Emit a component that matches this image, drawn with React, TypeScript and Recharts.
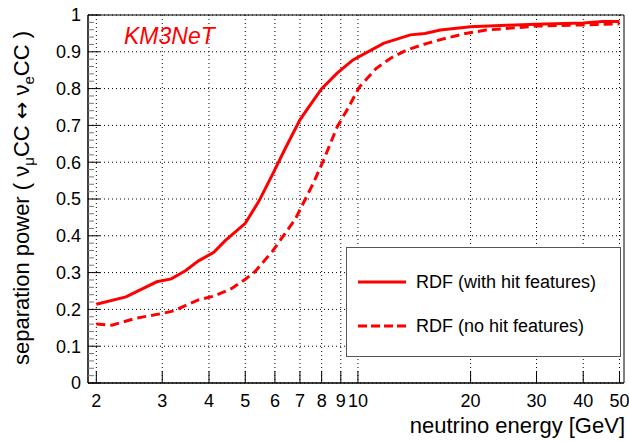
import React from "react";
import {
  LineChart,
  Line,
  XAxis,
  YAxis,
  CartesianGrid,
  ReferenceArea,
} from "recharts";

document.body.style.margin = "0";

const xTicks = [2, 3, 4, 5, 6, 7, 8, 9, 10, 20, 30, 40, 50];
const yTicks = [0, 0.1, 0.2, 0.3, 0.4, 0.5, 0.6, 0.7, 0.8, 0.9, 1];

const withHitEnergy = [
  2, 2.4, 2.9, 3.17, 3.46, 3.75, 4.12, 4.42, 5, 5.43, 5.9, 6.4, 7.0, 7.3, 8.0,
  8.8, 9.7, 11.7, 13.8, 15.1, 16.6, 20, 25, 30, 40, 45, 50,
];
const withHitPower = [
  0.214, 0.234, 0.275, 0.283, 0.305, 0.332, 0.355, 0.387, 0.434, 0.493, 0.565,
  0.638, 0.715, 0.742, 0.8, 0.842, 0.878, 0.923, 0.946, 0.95, 0.959, 0.968,
  0.972, 0.975, 0.978, 0.982, 0.982,
];

const noHitEnergy = [
  2, 2.2, 2.55, 3.0, 3.22, 3.75, 4.12, 4.6, 5.0, 5.3, 5.9, 6.8, 7.6, 8.1, 8.8,
  9.35, 10.1, 11.2, 12.2, 13.5, 15.3, 17.2, 19.4, 22, 30, 40, 50,
];
const noHitPower = [
  0.16, 0.157, 0.176, 0.189, 0.196, 0.226, 0.236, 0.257, 0.282, 0.302, 0.357,
  0.445, 0.543, 0.606, 0.696, 0.742, 0.805, 0.855, 0.882, 0.905, 0.923, 0.937,
  0.95, 0.959, 0.97, 0.973, 0.976,
];

const withHitData = withHitEnergy.map((e, i) => ({ energy: e, power: withHitPower[i] }));
const noHitData = noHitEnergy.map((e, i) => ({ energy: e, power: noHitPower[i] }));

// major ticks plus 4 minor ticks between each pair
const yAllTicks: number[] = [];
yTicks.forEach((t, i) => {
  yAllTicks.push(t);
  if (i < yTicks.length - 1) {
    for (let k = 1; k < 5; k++) yAllTicks.push(+(t + k * 0.02).toFixed(2));
  }
});

const FONT = "'Liberation Sans', Arial, sans-serif";
const RED = "#ff0000";

function YTick({ x, y, payload }: any) {
  const v = payload.value;
  const major = Math.abs(v * 10 - Math.round(v * 10)) < 1e-6;
  const axisX = x + 7;
  return (
    <g>
      <line
        x1={axisX}
        x2={axisX + (major ? 12 : 6)}
        y1={y}
        y2={y}
        stroke={major ? "#000" : "#777"}
        strokeWidth={1}
      />
      {major && (
        <text x={x} y={y} dy="0.36em" textAnchor="end" fontSize={18} fontFamily={FONT} fill="#000">
          {String(v)}
        </text>
      )}
    </g>
  );
}

function YTitle() {
  return (
    <text
      transform="translate(29,198) rotate(-90)"
      textAnchor="middle"
      fontSize={22}
      fontFamily={FONT}
      fill="#000"
    >
      separation power ( ν
      <tspan fontSize={15} dy={5}>μ</tspan>
      <tspan dy={-5}>CC </tspan>
      <tspan fontFamily="'DejaVu Sans', sans-serif" fontSize={21}>↔</tspan>
      <tspan> ν</tspan>
      <tspan fontSize={15} dy={5}>e</tspan>
      <tspan dy={-5}>CC )</tspan>
    </text>
  );
}

function XTitle() {
  return (
    <text x={625} y={433} textAnchor="end" fontSize={22} fontFamily={FONT} fill="#000">
      neutrino energy [GeV]
    </text>
  );
}

export default function App() {
  return (
    <div style={{ position: "relative", width: 629, height: 442, background: "#fff" }}>
      <LineChart width={629} height={442} margin={{ top: 15, right: 5, left: 0, bottom: 0 }}>
        <CartesianGrid
          horizontalValues={yTicks}
          verticalValues={xTicks}
          stroke="#000"
          strokeDasharray="1 3"
          strokeWidth={1}
        />
        <XAxis
          dataKey="energy"
          type="number"
          scale="log"
          domain={[1.9, 51.4]}
          allowDataOverflow
          ticks={xTicks}
          interval={0}
          height={59}
          tickSize={-12}
          tickMargin={23}
          tick={{ fontSize: 18, fontFamily: FONT, fill: "#000" }}
          tickLine={{ stroke: "#000" }}
          axisLine={{ stroke: "#000" }}
          label={{ content: () => <XTitle /> }}
        />
        <YAxis
          type="number"
          domain={[0, 1]}
          ticks={yAllTicks}
          interval={0}
          width={88}
          tickSize={0}
          tickMargin={7}
          tickLine={false}
          tick={<YTick />}
          axisLine={{ stroke: "#000" }}
          label={{ content: () => <YTitle /> }}
        />
        <ReferenceArea
          x1={1.9}
          x2={51.4}
          y1={0}
          y2={1}
          fill="none"
          stroke="#000"
          strokeWidth={1}
          ifOverflow="visible"
        />
        <Line
          data={withHitData}
          dataKey="power"
          type="linear"
          stroke={RED}
          strokeWidth={3}
          dot={false}
          isAnimationActive={false}
        />
        <Line
          data={noHitData}
          dataKey="power"
          type="linear"
          stroke={RED}
          strokeWidth={3}
          strokeDasharray="9 5"
          dot={false}
          isAnimationActive={false}
        />
      </LineChart>
      <div
        style={{
          position: "absolute",
          left: 124,
          top: 22,
          color: RED,
          fontFamily: FONT,
          fontStyle: "italic",
          fontSize: 23,
          lineHeight: "28px",
        }}
      >
        KM3NeT
      </div>
      <div
        style={{
          position: "absolute",
          left: 346,
          top: 247,
          width: 273,
          height: 108,
          border: "1px solid #555",
          background: "#fff",
          fontFamily: FONT,
          fontSize: 18,
        }}
      >
        <div style={{ position: "absolute", left: 11, top: 23, display: "flex", alignItems: "center" }}>
          <svg width={48} height={6}>
            <line x1={0} x2={48} y1={3} y2={3} stroke={RED} strokeWidth={3} />
          </svg>
          <span style={{ marginLeft: 10, lineHeight: "22px" }}>RDF (with hit features)</span>
        </div>
        <div style={{ position: "absolute", left: 11, top: 67, display: "flex", alignItems: "center" }}>
          <svg width={48} height={6}>
            <line x1={0} x2={48} y1={3} y2={3} stroke={RED} strokeWidth={3} strokeDasharray="9 4" />
          </svg>
          <span style={{ marginLeft: 10, lineHeight: "22px" }}>RDF (no hit features)</span>
        </div>
      </div>
    </div>
  );
}
